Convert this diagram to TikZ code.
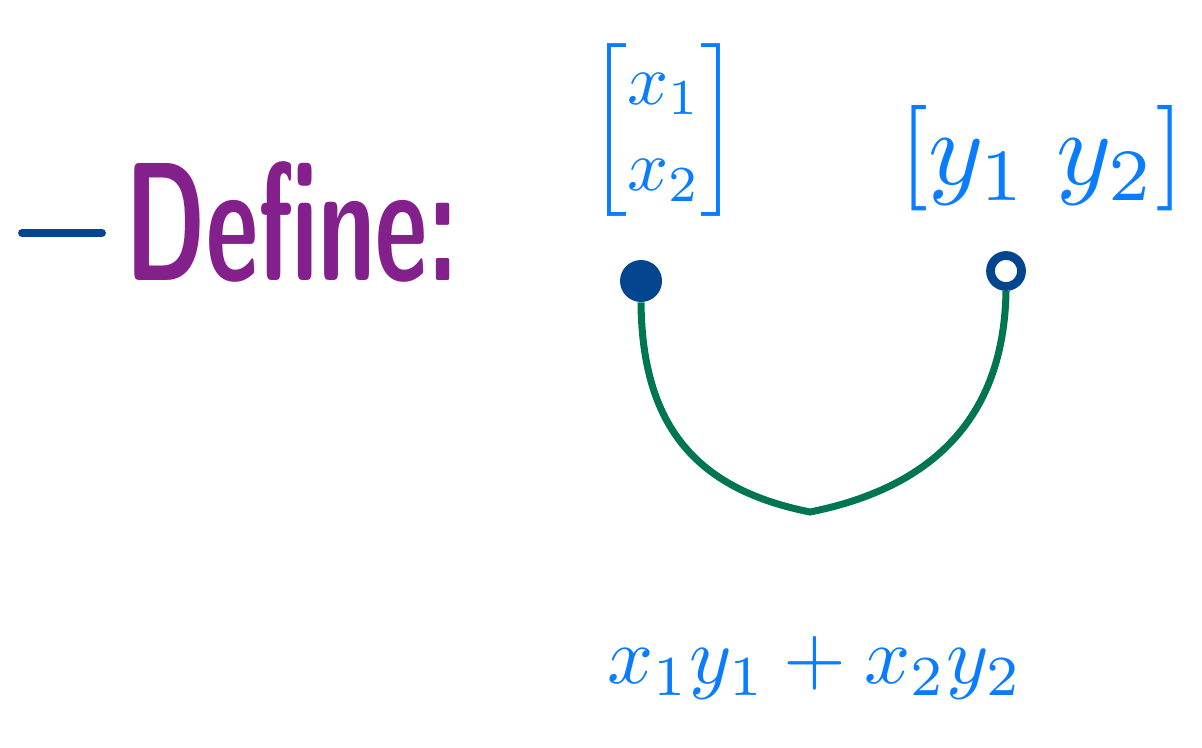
\documentclass[tikz,border=0pt]{standalone}
\usepackage{amsmath}
\usepackage{xcolor}
\usepackage{tikz}
\usetikzlibrary{positioning,calc}
\definecolor{inkblue}{HTML}{0A7CFF}
\definecolor{darkblue}{HTML}{03458F}
\definecolor{inkpurple}{HTML}{83208C}
\definecolor{inkgreen}{HTML}{007552}

\begin{document}
\begin{tikzpicture}[x=0.02cm,y=-0.02cm]
  \useasboundingbox (0,0) rectangle (1202,747);
  % heading
  \coordinate (dashl) at (22,233);
  \coordinate (dashr) at (102,233);
  \draw[darkblue,line width=4.5pt,line cap=round] (dashl) -- (dashr);
  \node[text=inkpurple,inner sep=0pt] (define) at (292,222)
    {\scalebox{5.8}[9.6]{\sffamily\bfseries Define:}};
  % the two vectors
  \node[text=inkblue,inner sep=0pt] (colvec) at (664,130)
    {\scalebox{4.1}{$\begin{bmatrix} x_1\\ x_2 \end{bmatrix}$}};
  \node[text=inkblue,inner sep=0pt] (rowvec) at (1042,158)
    {\scalebox{6}{$[y_1\;y_2]$}};
  \node[circle,fill=darkblue,inner sep=0pt,minimum size=0.84cm] (dotx) at (641,281) {};
  \node[circle,draw=darkblue,fill=white,line width=5pt,inner sep=0pt,minimum size=0.62cm] (doty)
    at (1006,271) {};
  % the contraction
  \coordinate (bend) at (810,512);
  \draw[inkgreen,line width=4pt] (dotx.south) .. controls (642,430) and (700,490) .. (bend)
    .. controls (930,488) and (1004,420) .. (doty.south);
  \node[text=inkblue,inner sep=0pt] (result) at (815,668)
    {\scalebox{4.6}{$x_1y_1+x_2y_2$}};
\end{tikzpicture}
\end{document}
